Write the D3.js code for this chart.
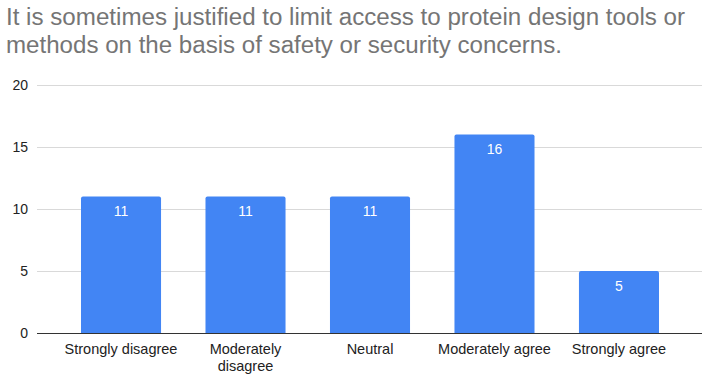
<!DOCTYPE html>
<html>
<head>
<meta charset="utf-8">
<script src="https://cdn.jsdelivr.net/npm/d3@7"></script>
<style>
  body { margin: 0; background: #fff; }
  svg text { font-family: "Liberation Sans", Arial, sans-serif; }
</style>
</head>
<body>
<div id="chart"></div>
<script>
var titleLines = ["It is sometimes justified to limit access to protein design tools or",
                  "methods on the basis of safety or security concerns."];
var categories = ["Strongly disagree", "Moderately disagree", "Neutral", "Moderately agree", "Strongly agree"];
var categoryLines = [["Strongly disagree"], ["Moderately", "disagree"], ["Neutral"], ["Moderately agree"], ["Strongly agree"]];
var counts = [11, 11, 11, 16, 5];
var yTicks = [0, 5, 10, 15, 20];

var width = 711, height = 377;
var plot = {left: 37, right: 702, top: 85, bottom: 333};
var barColor = "#4285f4";
var titleWidths = [679, 556];

var svg = d3.select("#chart").append("svg")
    .attr("width", width)
    .attr("height", height);

// title
svg.append("g").selectAll("text")
    .data(titleLines)
    .enter().append("text")
    .attr("x", 6)
    .attr("y", function(d, i) { return 25 + i * 28; })
    .attr("textLength", function(d, i) { return titleWidths[i]; })
    .attr("lengthAdjust", "spacingAndGlyphs")
    .style("font-size", "23px")
    .style("fill", "#757575")
    .text(function(d) { return d; });

var y = d3.scaleLinear()
    .domain([0, 20])
    .range([plot.bottom, plot.top]);

var step = 124.5;
var x = d3.scaleBand()
    .domain(categories)
    .range([58.75, 58.75 + step * categories.length])
    .paddingInner(0.357)
    .paddingOuter(0.1787);

// gridlines
svg.append("g").selectAll("line")
    .data(yTicks.filter(function(d) { return d > 0; }))
    .enter().append("line")
    .attr("x1", plot.left)
    .attr("x2", plot.right)
    .attr("y1", function(d) { return Math.round(y(d)) + 0.5; })
    .attr("y2", function(d) { return Math.round(y(d)) + 0.5; })
    .style("stroke", "#d9d9d9")
    .style("stroke-width", 1);

// y labels
var yAxis = d3.axisLeft(y).tickValues(yTicks).tickSize(0).tickPadding(0);
var gy = svg.append("g")
    .attr("transform", "translate(28,0)")
    .call(yAxis);
gy.select(".domain").remove();
gy.selectAll("text")
    .style("font-size", "14px")
    .style("fill", "#222")
    .style("font-family", "'Liberation Sans', Arial, sans-serif");

// bars
svg.append("g").selectAll("path")
    .data(counts)
    .enter().append("path")
    .attr("d", function(d, i) {
        var x0 = x(categories[i]), w = x.bandwidth(), y0 = y(d), yb = y(0), r = 2;
        return "M" + x0 + "," + yb + "V" + (y0 + r) + "Q" + x0 + "," + y0 + " " + (x0 + r) + "," + y0 +
               "H" + (x0 + w - r) + "Q" + (x0 + w) + "," + y0 + " " + (x0 + w) + "," + (y0 + r) + "V" + yb + "Z";
    })
    .style("fill", barColor);

// value labels
svg.append("g").selectAll("text")
    .data(counts)
    .enter().append("text")
    .attr("x", function(d, i) { return x(categories[i]) + x.bandwidth() / 2; })
    .attr("y", function(d) { return y(d) + 19.5; })
    .attr("text-anchor", "middle")
    .style("font-size", "14px")
    .style("fill", "#fff")
    .text(function(d) { return d; });

// baseline
svg.append("line")
    .attr("x1", plot.left)
    .attr("x2", plot.right)
    .attr("y1", y(0) + 0.5)
    .attr("y2", y(0) + 0.5)
    .style("stroke", "#333")
    .style("stroke-width", 1);

// category labels
var xl = svg.append("g").selectAll("text")
    .data(categoryLines)
    .enter().append("text")
    .attr("text-anchor", "middle")
    .attr("x", function(d, i) { return x(categories[i]) + x.bandwidth() / 2; })
    .attr("y", 354)
    .style("font-size", "14.5px")
    .style("fill", "#222");
xl.selectAll("tspan")
    .data(function(d) { return d; })
    .enter().append("tspan")
    .attr("x", function() { return d3.select(this.parentNode).attr("x"); })
    .attr("dy", function(d, i) { return i ? 17 : 0; })
    .text(function(d) { return d; });
</script>
</body>
</html>
